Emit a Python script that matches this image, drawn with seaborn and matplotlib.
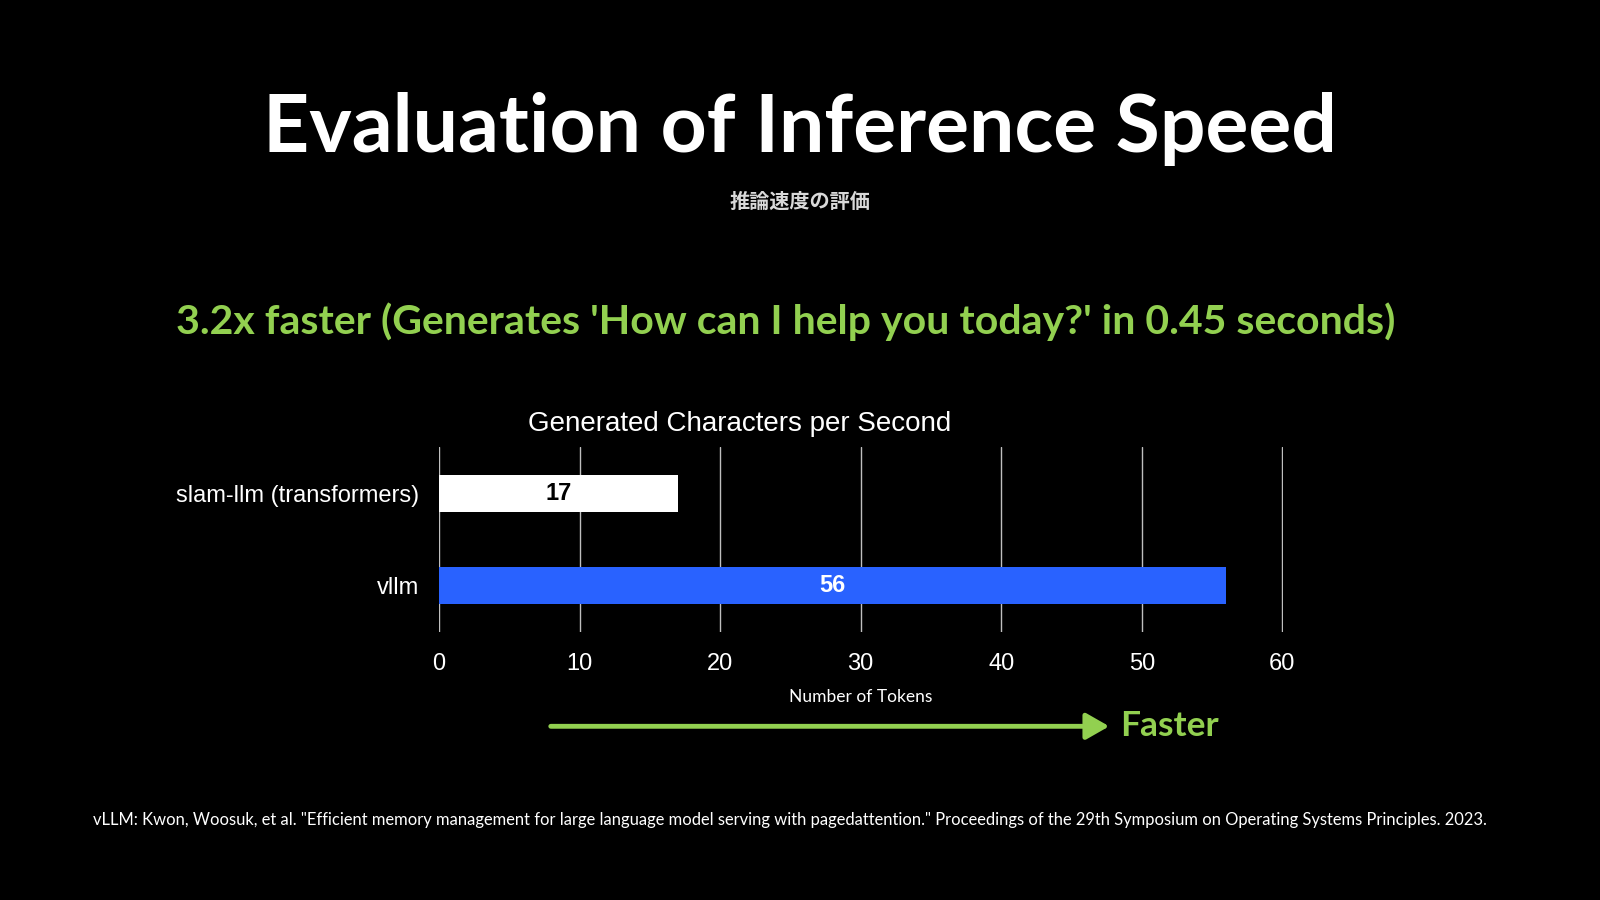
import matplotlib
matplotlib.use("Agg")
import matplotlib.pyplot as plt
import pandas as pd
import seaborn as sns

# data
models = ["slam-llm (transformers)", "vllm"]
chars_per_sec = [17, 56]
bar_colors = ["#FFFFFF", "#2962FF"]
x_ticks = [0, 10, 20, 30, 40, 50, 60]

GREEN = "#92D050"
HEAD_FONT = ["Lato", "DejaVu Sans"]
CHART_FONT = ["Liberation Sans", "DejaVu Sans"]

df = pd.DataFrame({"model": models, "speed": chars_per_sec})

sns.set_theme(style="dark")
plt.rcParams["font.family"] = CHART_FONT

fig = plt.figure(figsize=(16, 9), dpi=100, facecolor="black")
ax = fig.add_axes([0.2744, 0.298, 0.5275, 0.205])
ax.set_facecolor("black")

sns.barplot(data=df, x="speed", y="model", hue="model", palette=bar_colors,
            width=0.4, legend=False, saturation=1, linewidth=0, ax=ax,
            zorder=3)

ax.set_xlim(0, 60.05)
ax.set_xticks(x_ticks)
ax.grid(axis="x", color="#BFBFBF", linewidth=1.0, zorder=0)
ax.grid(axis="y", visible=False)
for s in ax.spines.values():
    s.set_visible(False)
ax.tick_params(axis="both", length=0, colors="white", labelsize=17)
ax.tick_params(axis="x", pad=15)
ax.tick_params(axis="y", pad=14)
ax.set_ylabel("")
ax.set_xlabel("Number of Tokens", color="white", fontsize=12.5,
              family=HEAD_FONT, labelpad=10)

# value labels inside bars
for cont, col in zip(ax.containers, ["black", "white"]):
    ax.bar_label(cont, label_type="center", color=col, fontsize=17,
                 fontweight="bold")

fig.text(0.4625, 0.529, "Generated Characters per Second", color="white",
         fontsize=20, ha="center", va="center")

# slide texts
fig.text(0.5, 0.857, "Evaluation of Inference Speed", color="white",
         fontsize=58, fontweight="bold", ha="center", va="center",
         family=HEAD_FONT)
fig.text(0.5, 0.776, "推論速度の評価", color="#D9D9D9", fontsize=14.5,
         fontweight="bold", ha="center", va="center",
         family=["Noto Sans CJK JP", "DejaVu Sans"])
fig.text(0.491, 0.643,
         "3.2x faster (Generates 'How can I help you today?' in 0.45 seconds)",
         color=GREEN, fontsize=29.5, fontweight="bold", ha="center",
         va="center", family=HEAD_FONT)

fig.patches.append(matplotlib.patches.FancyArrowPatch(
    (548 / 1600, 0.193), (1112 / 1600, 0.193), transform=fig.transFigure,
    arrowstyle="-|>,head_length=14,head_width=8", color=GREEN,
    linewidth=3.5, mutation_scale=1))
fig.text(1120 / 1600, 0.193, "Faster", color=GREEN, fontsize=25.5,
         fontweight="bold", ha="left", va="center", family=HEAD_FONT)

fig.text(0.4935, 0.0894,
         'vLLM: Kwon, Woosuk, et al. "Efficient memory management for large '
         'language model serving with pagedattention." Proceedings of the 29th '
         'Symposium on Operating Systems Principles. 2023.',
         color="white", fontsize=11.9, ha="center", va="center",
         family=HEAD_FONT)

fig.savefig("out.png", dpi=100, facecolor="black")
